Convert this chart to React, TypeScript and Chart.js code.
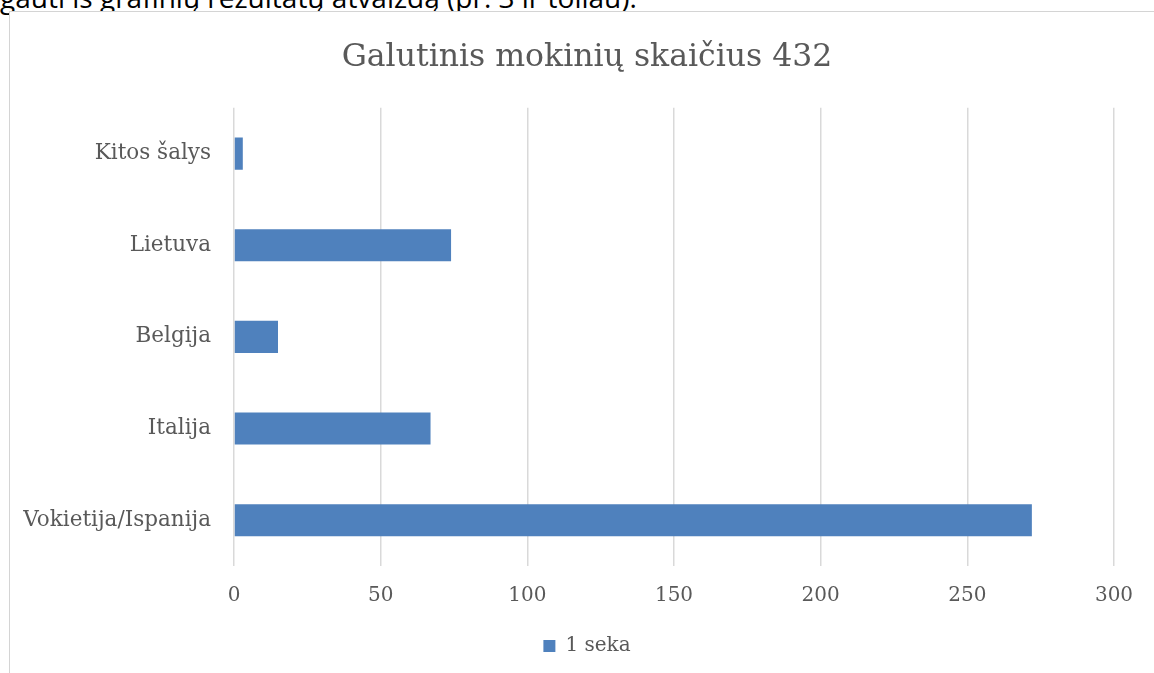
import React, { useEffect, useRef } from "react";
import { Chart, registerables } from "chart.js";

Chart.register(...registerables);

const categories = ["Kitos šalys", "Lietuva", "Belgija", "Italija", "Vokietija/Ispanija"];
const values = [3, 74, 15, 67, 272];
const seriesName = "1 seka";
const titleText = "Galutinis mokinių skaičius 432";
const docText = "gauti iš grafinių rezultatų atvaizdą (pr. 3 ir toliau).";

const SERIF = "'DejaVu Serif', serif";
const TEXT = "#595959";
const GRID = "#d9d9d9";
const BAR = "#4f81bd";

export default function App() {
  const ref = useRef<HTMLCanvasElement | null>(null);
  useEffect(() => {
    if (!ref.current) return;
    const chart = new Chart(ref.current, {
      type: "bar",
      data: {
        labels: categories,
        datasets: [
          {
            label: seriesName,
            data: values,
            backgroundColor: BAR,
            borderColor: BAR,
            borderWidth: 0,
            barPercentage: 0.35,
            categoryPercentage: 1,
            xAxisID: "x",
            yAxisID: "y",
          },
        ],
      },
      options: {
        indexAxis: "y",
        animation: false,
        responsive: false,
        maintainAspectRatio: false,
        layout: { padding: { left: 0, right: 6, top: 0, bottom: 7 } },
        plugins: {
          title: {
            display: true,
            text: titleText,
            color: TEXT,
            font: { family: SERIF, size: 31.5, weight: "normal", lineHeight: 1.2 },
            padding: { top: 27, bottom: 31 },
          },
          legend: {
            display: true,
            position: "bottom",
            labels: {
              color: TEXT,
              font: { family: SERIF, size: 20 },
              boxWidth: 12,
              boxHeight: 12,
              padding: 10,
            },
          },
          tooltip: { enabled: false },
        },
        scales: {
          x: {
            min: 0,
            max: 300,
            ticks: {
              stepSize: 50,
              color: TEXT,
              font: { family: SERIF, size: 20 },
              padding: 18,
              maxRotation: 0,
            },
            grid: { color: GRID, lineWidth: 1.5, drawTicks: false },
            border: { display: false },
            afterFit: (s: any) => {
              s.height = 60;
            },
          },
          y: {
            ticks: {
              color: TEXT,
              font: { family: SERIF, size: 21.5 },
              padding: 23,
            },
            grid: { display: false, drawTicks: false },
            border: { display: false },
            afterFit: (s: any) => {
              s.width = 224;
            },
          },
          yRight: {
            type: "category",
            position: "right",
            display: true,
            ticks: { display: false },
            grid: { display: false, drawTicks: false },
            border: { display: false },
            afterFit: (s: any) => {
              s.width = 50;
            },
          },
        },
      },
    });
    return () => chart.destroy();
  }, []);

  return (
    <div
      style={{
        position: "fixed",
        left: 0,
        top: 0,
        width: 1154,
        height: 673,
        overflow: "hidden",
        background: "#fff",
      }}
    >
      <div
        style={{
          position: "absolute",
          left: 0,
          top: -17,
          fontFamily: "'Open Sans', sans-serif",
          fontSize: 28,
          lineHeight: "28px",
          color: "#000",
          whiteSpace: "nowrap",
        }}
      >
        {docText}
      </div>
      <div
        style={{
          position: "absolute",
          left: 9,
          top: 11,
          width: 1200,
          height: 700,
          border: "1px solid #d4d4d4",
          boxSizing: "border-box",
          background: "#fff",
        }}
      >
        <canvas ref={ref} width={1160} height={661} style={{ display: "block", width: 1160, height: 661 }} />
      </div>
    </div>
  );
}
